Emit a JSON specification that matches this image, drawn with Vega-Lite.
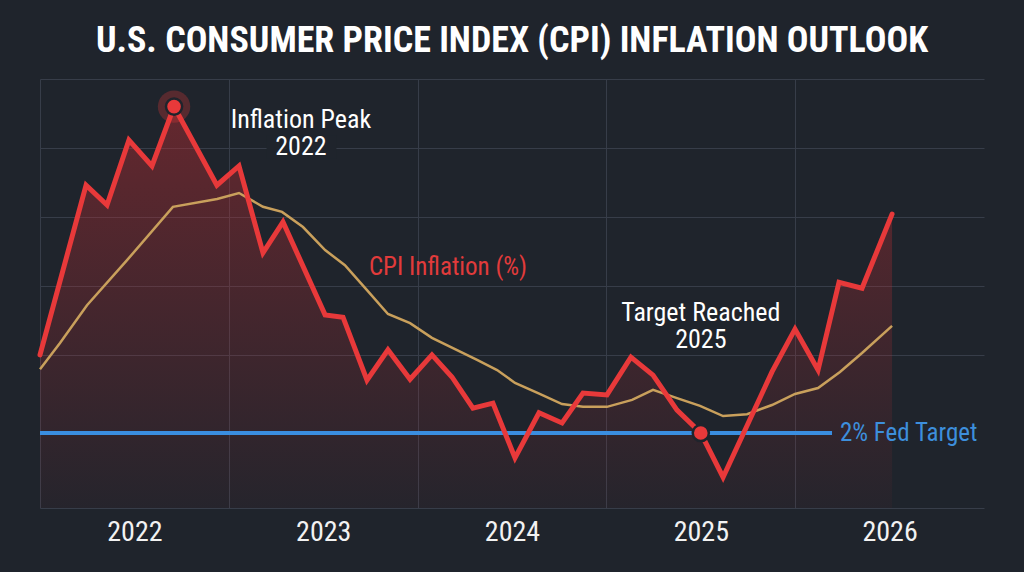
{
  "$schema": "https://vega.github.io/schema/vega-lite/v6.json",
  "autosize": "none",
  "width": 944,
  "height": 429,
  "padding": {"left": 40, "top": 79, "right": 40, "bottom": 64},
  "background": "#1f242c",
  "config": {
    "view": {"stroke": null},
    "font": "Liberation Sans Narrow, Roboto Condensed, Roboto, sans-serif"
  },
  "title": {
    "text": "U.S. CONSUMER PRICE INDEX (CPI) INFLATION OUTLOOK",
    "anchor": "middle",
    "frame": "group",
    "offset": 19,
    "font": "Liberation Sans Narrow, Roboto Condensed, Roboto, sans-serif",
    "fontSize": 36,
    "fontWeight": "bold",
    "color": "#ffffff"
  },
  "datasets": {
    "cpi": [
      {"t": 2021.5, "v": 3.70}, {"t": 2021.744, "v": 7.39}, {"t": 2021.855, "v": 6.96},
      {"t": 2021.971, "v": 8.37}, {"t": 2022.093, "v": 7.81}, {"t": 2022.21, "v": 9.1},
      {"t": 2022.437, "v": 7.39}, {"t": 2022.554, "v": 7.81}, {"t": 2022.681, "v": 5.92},
      {"t": 2022.787, "v": 6.59}, {"t": 2023.01, "v": 4.57}, {"t": 2023.105, "v": 4.52},
      {"t": 2023.232, "v": 3.15}, {"t": 2023.343, "v": 3.81}, {"t": 2023.46, "v": 3.17},
      {"t": 2023.576, "v": 3.70}, {"t": 2023.682, "v": 3.22}, {"t": 2023.793, "v": 2.54},
      {"t": 2023.899, "v": 2.65}, {"t": 2024.016, "v": 1.46}, {"t": 2024.143, "v": 2.44},
      {"t": 2024.265, "v": 2.22}, {"t": 2024.376, "v": 2.87}, {"t": 2024.503, "v": 2.83},
      {"t": 2024.63, "v": 3.65}, {"t": 2024.747, "v": 3.26}, {"t": 2024.874, "v": 2.50},
      {"t": 2025.0, "v": 2.0}, {"t": 2025.118, "v": 1.04}, {"t": 2025.377, "v": 3.33},
      {"t": 2025.499, "v": 4.26}, {"t": 2025.621, "v": 3.37}, {"t": 2025.732, "v": 5.28},
      {"t": 2025.854, "v": 5.15}, {"t": 2026.013, "v": 6.76}
    ],
    "trend": [
      {"t": 2021.5, "v": 3.39}, {"t": 2021.606, "v": 3.96}, {"t": 2021.749, "v": 4.78},
      {"t": 2021.961, "v": 5.76}, {"t": 2022.204, "v": 6.92}, {"t": 2022.438, "v": 7.09},
      {"t": 2022.554, "v": 7.22}, {"t": 2022.681, "v": 6.92}, {"t": 2022.782, "v": 6.81},
      {"t": 2022.893, "v": 6.48}, {"t": 2023.01, "v": 5.98}, {"t": 2023.115, "v": 5.65},
      {"t": 2023.232, "v": 5.11}, {"t": 2023.343, "v": 4.59}, {"t": 2023.46, "v": 4.39},
      {"t": 2023.576, "v": 4.07}, {"t": 2023.815, "v": 3.59}, {"t": 2023.921, "v": 3.37},
      {"t": 2024.016, "v": 3.09}, {"t": 2024.138, "v": 2.87}, {"t": 2024.265, "v": 2.63},
      {"t": 2024.376, "v": 2.57}, {"t": 2024.503, "v": 2.57}, {"t": 2024.636, "v": 2.72},
      {"t": 2024.747, "v": 2.94}, {"t": 2024.874, "v": 2.76}, {"t": 2024.996, "v": 2.59},
      {"t": 2025.118, "v": 2.37}, {"t": 2025.245, "v": 2.41}, {"t": 2025.377, "v": 2.61},
      {"t": 2025.499, "v": 2.85}, {"t": 2025.621, "v": 2.98}, {"t": 2025.737, "v": 3.33},
      {"t": 2025.854, "v": 3.74}, {"t": 2026.013, "v": 4.33}
    ]
  },
  "resolve": {"axis": {"x": "independent", "y": "independent"}},
  "layer": [
    {
      "data": {"name": "cpi"},
      "mark": {
        "type": "area",
        "color": {
          "gradient": "linear",
          "x1": 0, "y1": 0, "x2": 0, "y2": 1,
          "stops": [
            {"offset": 0, "color": "rgba(205,45,50,0.40)"},
            {"offset": 1, "color": "rgba(205,45,50,0.04)"}
          ]
        }
      },
      "encoding": {
        "x": {
          "field": "t", "type": "quantitative",
          "scale": {"domain": [2021.5, 2026.5], "nice": false, "zero": false},
          "axis": {
            "orient": "top", "values": [2021.5, 2022.5, 2023.5, 2024.5, 2025.5],
            "grid": true, "gridColor": "#373d49", "gridWidth": 1,
            "labels": false, "ticks": false, "domain": false, "title": null
          }
        },
        "y": {
          "field": "v", "type": "quantitative",
          "scale": {"domain": [0.37, 9.7], "nice": false, "zero": false},
          "axis": {
            "orient": "left",
            "values": [3.7, 5.2, 6.7, 8.2, 9.7],
            "grid": true, "gridColor": "#373d49", "gridWidth": 1,
            "labels": false, "ticks": false, "domain": false, "title": null
          }
        },
        "y2": {"datum": 0.37}
      }
    },
    {
      "data": {"values": [{"t0": 2022.70, "t1": 2023.07, "v0": 7.97, "v1": 8.47}]},
      "mark": {"type": "rect", "color": "#1f242c"},
      "encoding": {
        "x": {"field": "t0", "type": "quantitative", "axis": null},
        "x2": {"field": "t1"},
        "y": {"field": "v0", "type": "quantitative", "axis": null},
        "y2": {"field": "v1"}
      }
    },
    {
      "data": {"values": [{"t0": 2021.5, "t1": 2025.695, "v": 2}]},
      "mark": {"type": "rule", "color": "#3a8ee0", "strokeWidth": 4},
      "encoding": {
        "x": {"field": "t0", "type": "quantitative", "axis": null},
        "x2": {"field": "t1"},
        "y": {"field": "v", "type": "quantitative", "axis": null}
      }
    },
    {
      "data": {"name": "trend"},
      "mark": {"type": "line", "color": "#c9a05c", "strokeWidth": 2.5},
      "encoding": {
        "x": {
          "field": "t", "type": "quantitative",
          "axis": {
            "orient": "bottom", "values": [2022, 2023, 2024, 2025, 2026], "format": "d",
            "grid": false, "ticks": false, "domain": true, "domainColor": "#373d49",
            "labelFont": "Liberation Sans Narrow, Roboto Condensed, Roboto, sans-serif",
            "labelFontSize": 28, "labelColor": "#f2f2f2", "labelPadding": 10,
            "title": null
          }
        },
        "y": {"field": "v", "type": "quantitative", "axis": null}
      }
    },
    {
      "data": {"name": "cpi"},
      "mark": {"type": "line", "color": "#e8393a", "strokeWidth": 5, "strokeJoin": "miter", "strokeCap": "round"},
      "encoding": {
        "x": {"field": "t", "type": "quantitative", "axis": null},
        "y": {"field": "v", "type": "quantitative", "axis": null}
      }
    },
    {
      "data": {"values": [{"t": 2022.21, "v": 9.1}]},
      "mark": {"type": "circle", "color": "#e8393a", "opacity": 0.28, "size": 1050},
      "encoding": {
        "x": {"field": "t", "type": "quantitative", "axis": null},
        "y": {"field": "v", "type": "quantitative", "axis": null}
      }
    },
    {
      "data": {"values": [{"t": 2022.21, "v": 9.1}, {"t": 2025.0, "v": 2.0}]},
      "mark": {"type": "circle", "color": "#e8393a", "opacity": 1, "size": 260, "stroke": "#1f242c", "strokeWidth": 2.5},
      "encoding": {
        "x": {"field": "t", "type": "quantitative", "axis": null},
        "y": {"field": "v", "type": "quantitative", "axis": null}
      }
    },
    {
      "data": {"values": [
        {"t": 2022.882, "v": 8.80, "label": "Inflation Peak\n2022"},
        {"t": 2025.0, "v": 4.62, "label": "Target Reached\n2025"}
      ]},
      "mark": {"type": "text", "color": "#ffffff", "fontSize": 26, "lineBreak": "\n", "lineHeight": 27, "align": "center", "baseline": "middle"},
      "encoding": {
        "x": {"field": "t", "type": "quantitative", "axis": null},
        "y": {"field": "v", "type": "quantitative", "axis": null},
        "text": {"field": "label"}
      }
    },
    {
      "data": {"values": [{"t": 2023.661, "v": 5.61, "label": "CPI Inflation (%)"}]},
      "mark": {"type": "text", "color": "#e23b3b", "fontSize": 25, "align": "center", "baseline": "middle"},
      "encoding": {
        "x": {"field": "t", "type": "quantitative", "axis": null},
        "y": {"field": "v", "type": "quantitative", "axis": null},
        "text": {"field": "label"}
      }
    },
    {
      "data": {"values": [{"t": 2025.737, "v": 2.0, "label": "2% Fed Target"}]},
      "mark": {"type": "text", "color": "#3d8fdc", "fontSize": 25, "align": "left", "baseline": "middle"},
      "encoding": {
        "x": {"field": "t", "type": "quantitative", "axis": null},
        "y": {"field": "v", "type": "quantitative", "axis": null},
        "text": {"field": "label"}
      }
    }
  ]
}
